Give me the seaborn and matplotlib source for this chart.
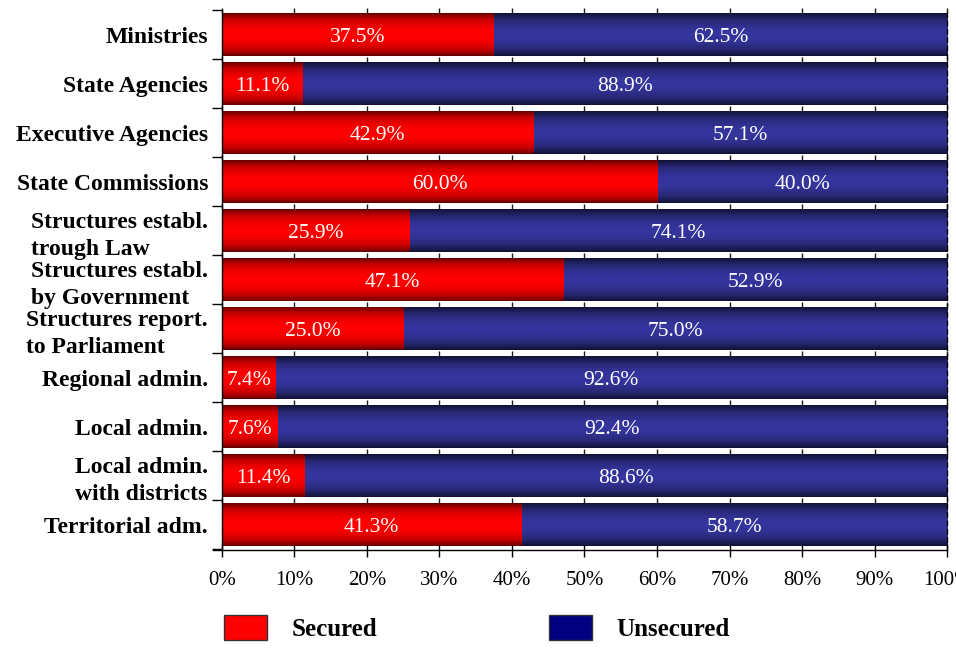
import numpy as np
import pandas as pd
import matplotlib
matplotlib.use("Agg")
import matplotlib.pyplot as plt
import seaborn as sns
from matplotlib.colors import LinearSegmentedColormap
from matplotlib.patches import Patch

# Share of secured / unsecured positions by type of administrative structure
categories = [
    "Ministries",
    "State Agencies",
    "Executive Agencies",
    "State Commissions",
    "Structures establ.\ntrough Law",
    "Structures establ.\nby Government",
    "Structures report.\nto Parliament",
    "Regional admin.",
    "Local admin.",
    "Local admin.\nwith districts",
    "Territorial adm.",
]
secured = [37.5, 11.1, 42.9, 60.0, 25.9, 47.1, 25.0, 7.4, 7.6, 11.4, 41.3]
unsecured = [62.5, 88.9, 57.1, 40.0, 74.1, 52.9, 75.0, 92.6, 92.4, 88.6, 58.7]
series_names = ["Secured", "Unsecured"]
tick_values = list(range(0, 101, 10))
tick_labels = [f"{v}%" for v in tick_values]

RED = "#ff0000"
NAVY = "#000080"

sns.set_style("white")
plt.rcParams["font.family"] = ["Liberation Serif", "DejaVu Serif"]
plt.rcParams["text.color"] = "black"
plt.rcParams["xtick.color"] = "black"
plt.rcParams["ytick.color"] = "black"
plt.rcParams["xtick.labelcolor"] = "black"
plt.rcParams["ytick.labelcolor"] = "black"

df = pd.DataFrame({"category": categories, "secured": secured, "unsecured": unsecured})
df["total"] = df["secured"] + df["unsecured"]

fig = plt.figure(figsize=(9.56, 6.48), dpi=100)
ax = fig.add_axes([0.2322, 0.1512, 0.7584, 0.8333])

# full bar (unsecured part shows) and the secured part drawn over it
sns.barplot(data=df, y="category", x="total", orient="h", color=NAVY,
            saturation=1, width=0.86, errorbar=None, linewidth=0, ax=ax)
sns.barplot(data=df, y="category", x="secured", orient="h", color=RED,
            saturation=1, width=0.86, errorbar=None, linewidth=0, ax=ax)

navy_bars = list(ax.containers[0])
red_bars = list(ax.containers[1])

# cylinder-like shading: dark at the bar edges, bright in the middle
t = np.linspace(0, 1, 128)
profile = (1 - np.abs(2 * t - 1) ** 2)[:, None]
red_cmap = LinearSegmentedColormap.from_list("red_shade", ["#660000", "#c40000", "#ff0000"])
navy_cmap = LinearSegmentedColormap.from_list("navy_shade", ["#111135", "#25256e", "#35359e"])


def shade(bars, cmap, z):
    for p in bars:
        p.set_zorder(z)
        x0, y0, w, h = p.get_x(), p.get_y(), p.get_width(), p.get_height()
        im = ax.imshow(profile, extent=(x0, x0 + w, y0 + h, y0), aspect="auto",
                       cmap=cmap, vmin=0, vmax=1, interpolation="bilinear",
                       zorder=z + 0.05)
        im.set_clip_path(p)


shade(navy_bars, navy_cmap, 1.0)
shade(red_bars, red_cmap, 1.2)

# value labels centred in each segment
label_font = dict(color="white", fontsize=15.5, ha="center", va="center_baseline", zorder=5)
for p, s in zip(red_bars, secured):
    ax.text(s / 2, p.get_y() + p.get_height() / 2, f"{s:.1f}%", **label_font)
for p, s, u in zip(navy_bars, secured, unsecured):
    ax.text(s + u / 2, p.get_y() + p.get_height() / 2, f"{u:.1f}%", **label_font)

# short tick marks on top of every bar
tops = np.array([p.get_y() for p in navy_bars])
xs = np.tile(tick_values, len(tops))
ys = np.repeat(tops, len(tick_values))
ax.vlines(xs, ys - 0.11, ys, color="#1a1a1a", lw=1, zorder=4, clip_on=False)

ax.set_xlim(0, 100)
ax.set_ylim(len(categories) - 0.48, -0.5)

ax.set_xticks(tick_values)
ax.set_xticklabels(tick_labels)
ax.tick_params(axis="x", direction="inout", length=10, width=1, color="black",
               labelsize=15, pad=10, bottom=True, labelcolor="black")

ax.set_yticks(range(len(categories)))
ax.set_yticks(np.arange(-0.5, len(categories), 1), minor=True)
ax.tick_params(axis="y", which="major", length=0, pad=10, labelsize=17, left=True,
               labelcolor="black")
ax.tick_params(axis="y", which="minor", direction="out", length=7, width=1,
               color="black", left=True)
for lbl in ax.get_yticklabels():
    lbl.set_fontweight("bold")
    lbl.set_multialignment("left")
    lbl.set_linespacing(1.4)

ax.set_xlabel("")
ax.set_ylabel("")

for side in ["left", "bottom"]:
    ax.spines[side].set_color("black")
    ax.spines[side].set_linewidth(1)
    ax.spines[side].set_zorder(6)
ax.spines["bottom"].set_bounds(-1.25, 100)
ax.spines["top"].set_visible(False)
ax.spines["right"].set_color("black")
ax.spines["right"].set_linewidth(1)
ax.spines["right"].set_linestyle((0, (3, 3)))
ax.spines["right"].set_zorder(6)

handles = [Patch(facecolor=RED, edgecolor="#333333", linewidth=1),
           Patch(facecolor=NAVY, edgecolor="#333333", linewidth=1)]
fig.legend(handles, series_names, loc="center left", bbox_to_anchor=(0.2343, 0.0309),
           ncol=2, frameon=False, prop={"weight": "bold", "size": 18},
           handlelength=1.72, handleheight=1.16, handletextpad=1.0,
           columnspacing=6.85, borderpad=0, borderaxespad=0)

fig.savefig("out.png", dpi=100)
